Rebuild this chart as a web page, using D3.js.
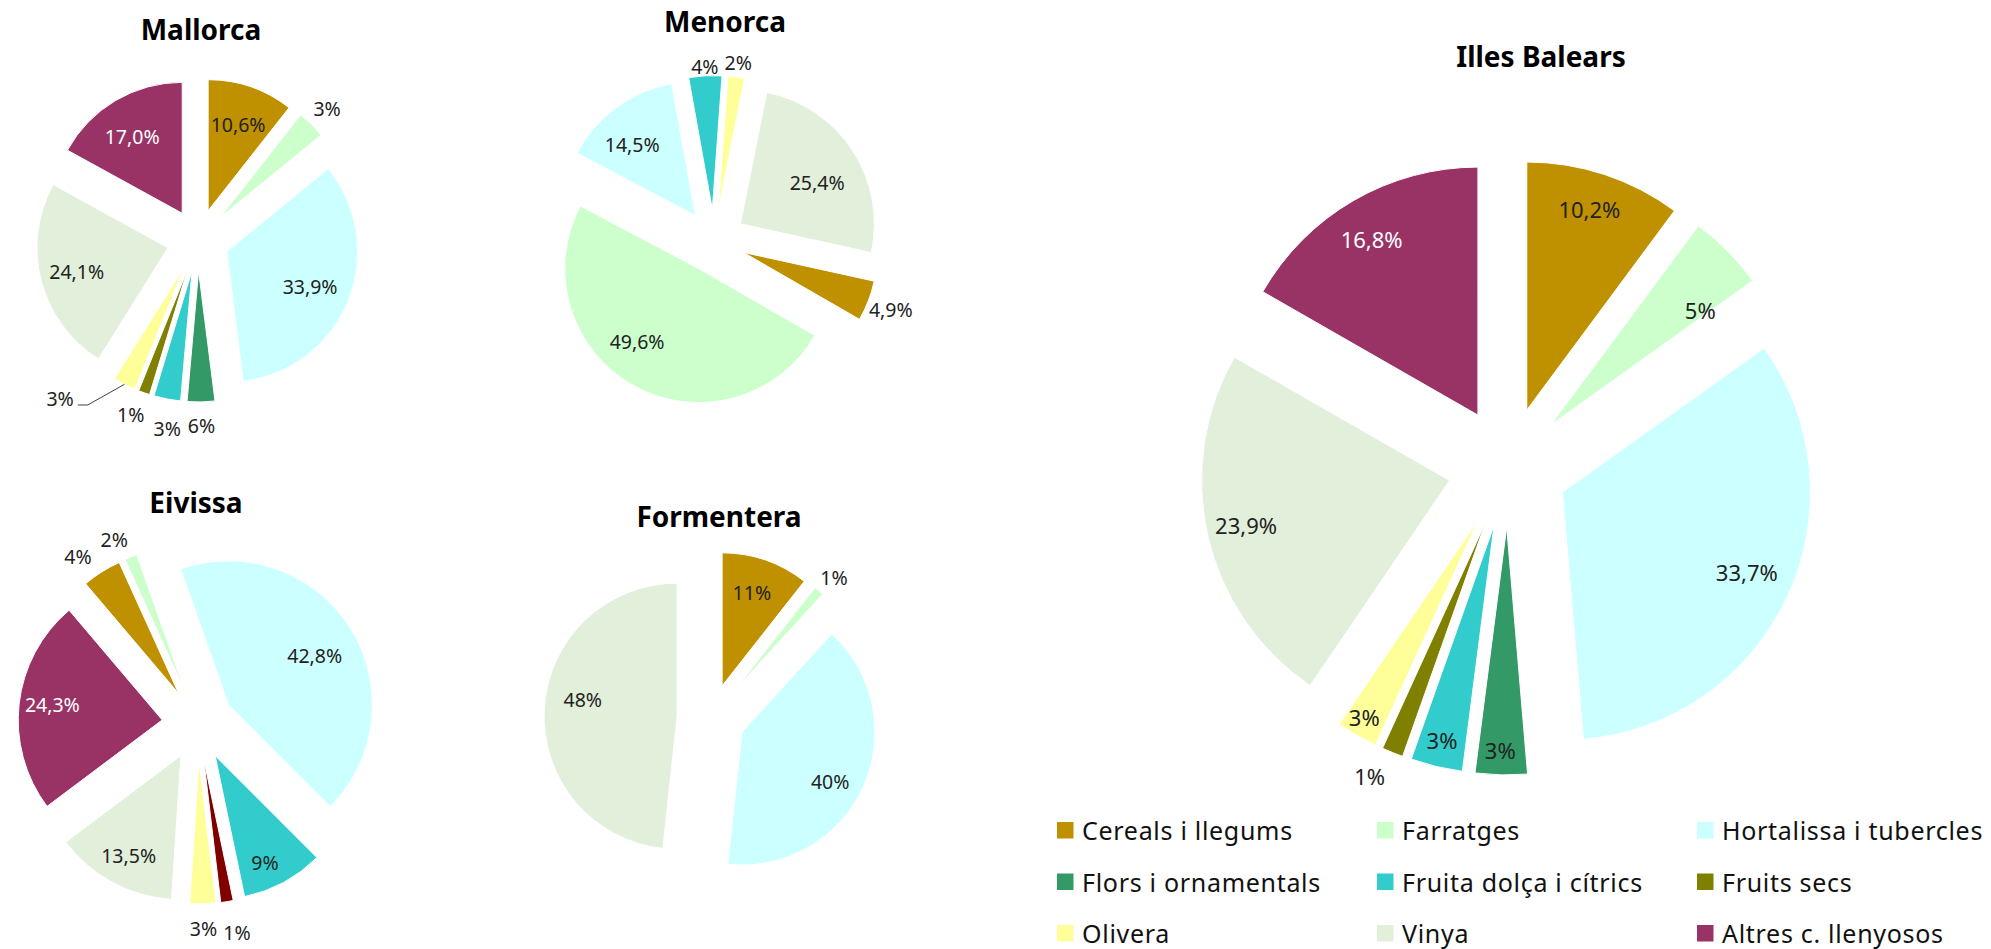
<!DOCTYPE html>
<html>
<head>
<meta charset="utf-8">
<script src="https://cdn.jsdelivr.net/npm/d3@7"></script>
<style>
  body { margin: 0; background: #fff; }
  text { font-family: "Noto Sans", "Open Sans", sans-serif; }
</style>
</head>
<body>
<script>
// categories shared by every pie (legend order = slice order, clockwise)
var categories = ["Cereals i llegums", "Farratges", "Hortalissa i tubercles",
                  "Flors i ornamentals", "Fruita dolça i cítrics", "Fruits secs",
                  "Olivera", "Vinya", "Altres c. llenyosos"];
var colors = ["#bf9000", "#ccffcc", "#ccffff", "#339966", "#33cccc",
              "#808000", "#ffff99", "#e2efda", "#993366"];

// values, labels as printed on the chart
var mallorca = [10.6, 3.5, 33.9, 3.4, 3.3, 1.4, 2.8, 24.1, 17.0];
var mallorcaLabels = ["10,6%", "3%", "33,9%", "6%", "3%", "1%", "3%", "24,1%", "17,0%"];

var menorca = [4.9, 49.6, 14.5, 0, 4, 0, 2, 25.4, 0];
var menorcaLabels = ["4,9%", "49,6%", "14,5%", null, "4%", null, "2%", "25,4%", null];

var eivissa = [4.4, 1.4, 42.8, 0, 9.2, 1.4, 2.9, 13.7, 24.0];
var eivissaLabels = ["4%", "2%", "42,8%", null, "9%", "1%", "3%", "13,5%", "24,3%"];

var formentera = [10.6, 1.2, 39.9, 0, 0, 0, 0, 48.3, 0];
var formenteraLabels = ["11%", "1%", "40%", null, null, null, null, "48%", null];

var balears = [10.2, 5, 33.7, 3.4, 3.4, 1.4, 2.7, 23.9, 16.8];
var balearsLabels = ["10,2%", "5%", "33,7%", "3%", "3%", "1%", "3%", "23,9%", "16,8%"];

// layout of the five pies
var panels = [
  {title: "Mallorca", values: mallorca, labels: mallorcaLabels,
   cx: 198, cy: 240, r: 131, explode: 31, start: 0, tx: 201, ty: 40, fs: 19.5,
   pos: [[0.70, 0], [1.17, 0], [0.69, 1], [1.18, 0], [1.22, -2], [1.19, 2], [1.28, 8, "leader"], [0.72, 0], [0.70, -2.5]]},
  {title: "Menorca", values: menorca, labels: menorcaLabels,
   cx: 714, cy: 241, r: 134, explode: 31.5, start: 102.4, tx: 725, ty: 32, fs: 19.5,
   pos: [[1.18, 0], [0.71, 11.5], [0.71, -5.4], null, [1.07, 0], null, [1.11, 0], [0.65, 5], null]},
  {title: "Eivissa", values: eivissa, labels: eivissaLabels,
   cx: 198, cy: 724, r: 144, explode: 36, start: 319.7, tx: 196, ty: 513, fs: 19.5,
   pos: [[1.18, -4], [1.16, -3], [0.69, 2.4], null, [0.82, 3.4], [1.22, -1.6], [1.17, 0], [0.78, -0.7], [0.77, 1.4]],
   override: {5: "#800000"}},
  {title: "Formentera", values: formentera, labels: formenteraLabels,
   cx: 711, cy: 718, r: 133, explode: 34, start: 0, tx: 719, ty: 527, fs: 19.5,
   pos: [[0.74, -1.5], [1.15, 1], [0.76, 5], null, null, null, null, [0.72, 7], null]},
  {title: "Illes Balears", values: balears, labels: balearsLabels,
   cx: 1508, cy: 467, r: 248, explode: 60, start: 0, tx: 1541, ty: 67, fs: 22,
   pos: [[0.85, -1], [0.76, 7], [0.81, -1.4], [0.90, 0.4], [0.89, 0.2], [1.125, 2.5], [0.92, 0.7], [0.84, 0.6], [0.83, -1]]}
];

var svg = d3.select("body").append("svg")
    .attr("width", 1991)
    .attr("height", 949);

var rad = Math.PI / 180;

panels.forEach(function(p) {
  var pie = d3.pie().sort(null)
      .startAngle(p.start * rad)
      .endAngle(p.start * rad + 2 * Math.PI);
  var arc = d3.arc().innerRadius(0).outerRadius(p.r);

  var arcs = pie(p.values).map(function(a, i) {
    a.index = i;
    a.mid = (a.startAngle + a.endAngle) / 2;
    a.ox = p.explode * Math.sin(a.mid);
    a.oy = -p.explode * Math.cos(a.mid);
    return a;
  }).filter(function(a) { return a.value > 0; });

  var g = svg.append("g")
      .attr("transform", "translate(" + p.cx + "," + p.cy + ")");

  g.selectAll("path")
      .data(arcs)
    .enter().append("path")
      .attr("transform", function(d) { return "translate(" + d.ox + "," + d.oy + ")"; })
      .attr("d", arc)
      .attr("fill", function(d) {
        return (p.override && p.override[d.index]) || colors[d.index];
      })
      .attr("stroke", "#fff")
      .attr("stroke-width", 1);

  // data labels
  arcs.forEach(function(d) {
    var lp = p.pos[d.index], txt = p.labels[d.index];
    if (!lp || !txt) return;
    var a = d.mid + lp[1] * rad,
        dist = lp[0] * p.r,
        x = d.ox + dist * Math.sin(a),
        y = d.oy - dist * Math.cos(a);
    var fill = d.index === 8 ? "#fff" : "#222";

    if (lp[2] === "leader") {
      var sx = d.ox + p.r * Math.sin(d.mid),
          sy = d.oy - p.r * Math.cos(d.mid);
      g.append("polyline")
          .attr("points", [[sx, sy], [x, y], [x - 10, y]].join(" "))
          .attr("fill", "none")
          .attr("stroke", "#404040")
          .attr("stroke-width", 1);
      g.append("text")
          .attr("x", x - 14)
          .attr("y", y + 1)
          .attr("text-anchor", "end")
          .style("font-size", p.fs + "px")
          .attr("fill", fill)
          .text(txt);
      return;
    }

    g.append("text")
        .attr("x", x)
        .attr("y", y)
        .attr("text-anchor", "middle")
        .attr("dominant-baseline", "central")
        .style("font-size", p.fs + "px")
        .attr("fill", fill)
        .text(txt);
  });

  svg.append("text")
      .attr("x", p.tx)
      .attr("y", p.ty)
      .attr("text-anchor", "middle")
      .style("font-size", "28px")
      .style("font-weight", "bold")
      .attr("fill", "#000")
      .text(p.title);
});

// legend, three columns
var legend = svg.append("g").attr("class", "legend");
var item = legend.selectAll("g")
    .data(categories)
  .enter().append("g")
    .attr("transform", function(d, i) {
      return "translate(" + (1057 + (i % 3) * 320) + "," + (830 + Math.floor(i / 3) * 51.5) + ")";
    });

item.append("rect")
    .attr("x", 0)
    .attr("y", -8)
    .attr("width", 16.5)
    .attr("height", 16.5)
    .attr("fill", function(d, i) { return colors[i]; });

item.append("text")
    .attr("x", 25)
    .attr("y", 0)
    .attr("dominant-baseline", "central")
    .style("font-size", "25px")
    .style("letter-spacing", "0.7px")
    .attr("fill", "#111")
    .text(String);
</script>
</body>
</html>
